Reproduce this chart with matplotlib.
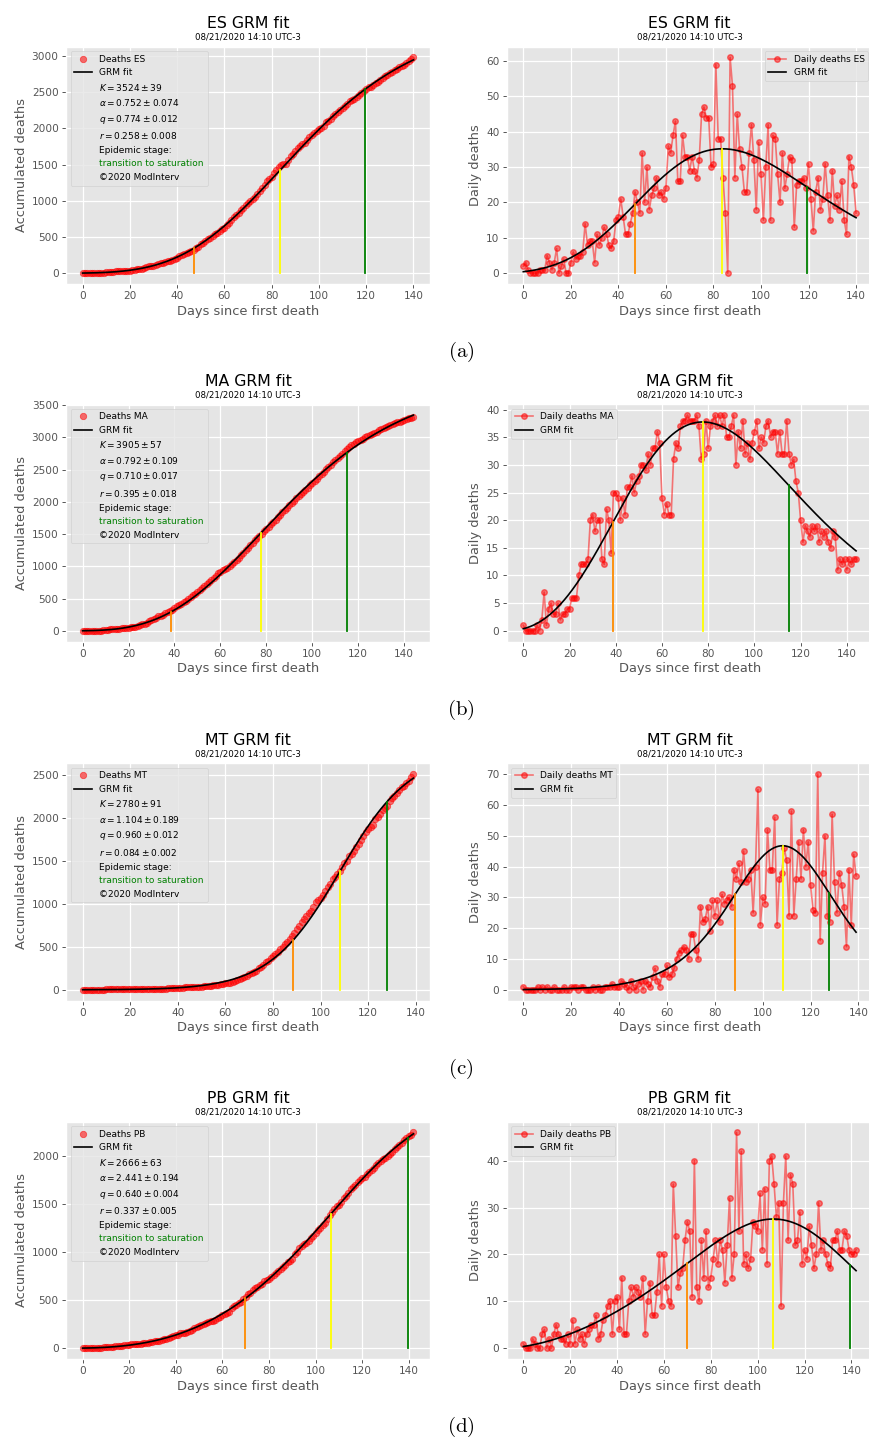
import matplotlib
matplotlib.use('Agg')
import matplotlib.pyplot as plt
import numpy as np

plt.style.use('ggplot')
plt.rcParams['axes.labelcolor'] = '#555555'

states = ['ES', 'MA', 'MT', 'PB']

# daily deaths since the first death, one value per day
es_daily = [2, 3, 1, 0, 0, 0, 0, 1, 1, 1,
            5, 3, 1, 3, 7, 0, 2, 4, 0, 0,
            3, 6, 4, 5, 5, 6, 14, 8, 9, 9,
            3, 11, 8, 10, 13, 11, 8, 7, 9, 15,
            16, 21, 16, 11, 11, 14, 17, 23, 20, 17,
            34, 20, 30, 18, 22, 24, 27, 22, 23, 21,
            24, 36, 34, 39, 43, 26, 26, 39, 33, 33,
            29, 33, 29, 27, 32, 45, 47, 44, 44, 30,
            31, 59, 38, 38, 27, 17, 0, 61, 53, 27,
            45, 35, 30, 23, 23, 34, 42, 32, 18, 37,
            28, 15, 30, 42, 15, 39, 38, 28, 20, 34,
            24, 28, 33, 32, 13, 25, 26, 26, 27, 24,
            31, 21, 12, 23, 27, 18, 21, 31, 22, 15,
            29, 19, 22, 18, 26, 15, 11, 33, 30, 25, 17]

ma_daily = [1, 0, 0, 0, 0, 0, 1, 0, 2, 7,
            1, 4, 5, 3, 3, 5, 2, 3, 3, 4,
            4, 6, 6, 6, 10, 12, 12, 12, 13, 20,
            21, 18, 20, 20, 13, 12, 22, 20, 14, 25,
            25, 24, 20, 24, 21, 26, 26, 28, 25, 27,
            28, 30, 30, 29, 32, 30, 33, 33, 36, 34,
            24, 21, 23, 21, 21, 31, 34, 33, 37, 38,
            38, 39, 38, 38, 38, 39, 37, 31, 32, 38,
            33, 37, 38, 39, 37, 39, 37, 39, 35, 35,
            37, 39, 30, 36, 33, 38, 32, 34, 31, 34,
            36, 38, 33, 35, 34, 37, 38, 35, 36, 36,
            32, 36, 32, 32, 38, 32, 30, 31, 27, 25,
            20, 16, 19, 18, 17, 19, 18, 19, 16, 18,
            17, 18, 16, 15, 18, 17, 11, 13, 12, 13,
            11, 13, 12, 13, 13]

mt_daily = [1, 0, 0, 0, 0, 0, 1, 0, 1, 0,
            1, 0, 0, 1, 0, 0, 0, 1, 0, 0,
            1, 1, 1, 0, 1, 1, 0, 0, 0, 1,
            0, 1, 0, 0, 1, 1, 1, 2, 1, 1,
            1, 3, 2, 1, 0, 3, 1, 0, 2, 3,
            0, 3, 2, 1, 4, 7, 3, 1, 5, 5,
            8, 4, 5, 7, 10, 12, 13, 14, 13, 10,
            18, 18, 13, 10, 27, 22, 23, 27, 19, 29,
            24, 29, 22, 31, 28, 29, 30, 27, 39, 36,
            41, 35, 45, 35, 36, 39, 25, 40, 65, 21,
            30, 28, 52, 39, 39, 56, 21, 36, 38, 46,
            42, 24, 58, 24, 36, 48, 36, 52, 40, 48,
            34, 26, 25, 70, 16, 38, 50, 24, 22, 57,
            35, 25, 38, 34, 27, 14, 39, 21, 44, 37]

pb_daily = [1, 0, 0, 0, 2, 1, 0, 0, 3, 4,
            0, 2, 0, 3, 5, 3, 2, 2, 1, 3,
            1, 6, 1, 4, 2, 3, 1, 3, 4, 5,
            5, 7, 2, 3, 6, 7, 9, 10, 3, 10,
            11, 4, 15, 3, 3, 10, 13, 11, 13, 12,
            11, 15, 3, 10, 14, 7, 7, 12, 20, 9,
            20, 13, 10, 9, 35, 24, 13, 16, 17, 23,
            27, 25, 11, 40, 13, 10, 23, 15, 25, 13,
            15, 19, 23, 18, 23, 21, 14, 22, 32, 15,
            20, 46, 25, 42, 18, 20, 17, 19, 27, 26,
            25, 33, 21, 34, 18, 40, 41, 35, 28, 31,
            9, 31, 41, 23, 37, 35, 22, 23, 29, 18,
            21, 19, 26, 22, 17, 20, 31, 21, 23, 20,
            18, 17, 23, 23, 25, 21, 21, 25, 24, 21,
            20, 20, 21]

daily_data = [es_daily, ma_daily, mt_daily, pb_daily]

# GRM parameters and uncertainties
K_vals = [3524, 3905, 2780, 2666]
K_err = [39, 57, 91, 63]
alpha_vals = [0.752, 0.792, 1.104, 2.441]
alpha_err = [0.074, 0.109, 0.189, 0.194]
q_vals = [0.774, 0.710, 0.960, 0.640]
q_err = [0.012, 0.017, 0.012, 0.004]
r_vals = [0.258, 0.395, 0.084, 0.337]
r_err = [0.008, 0.018, 0.002, 0.005]

# stage transition days: acceleration, peak, deceleration
t_accel = [47.1, 38.7, 88.6, 69.9]
t_peak = [83.7, 77.6, 108.3, 106.7]
t_decel = [119.5, 114.9, 127.8, 139.6]

stage_text = 'transition to saturation'
stamp = '08/21/2020 14:10 UTC-3'
panel_tags = ['(a)', '(b)', '(c)', '(d)']
daily_loc = ['upper right', 'upper left', 'upper left', 'upper left']


def grm_curve(K, a, q, r, tp, t):
    # dC/dt = r C^q (1 - (C/K)^a), solved as t(C) and shifted so the peak sits at tp
    rate = lambda c: r * c**q * (1 - (c / K)**a)
    c = np.geomspace(1e-6, 0.9995 * K, 40000)
    inv = 1.0 / rate(c)
    tc = np.concatenate([[0.0], np.cumsum(np.diff(c) * 0.5 * (inv[1:] + inv[:-1]))])
    c_peak = K * (q / (q + a))**(1.0 / a)
    tc = tc - np.interp(c_peak, c, tc) + tp
    cum = np.interp(t, tc, c)
    return cum, rate(cum)


W, H = 869.0, 1437.0
fig = plt.figure(figsize=(W / 100, H / 100), dpi=100)

row_tops = [46.7, 404.3, 763.3, 1121.7]
ax_h = 237.3

title_fs = 11.3
label_fs = 9.4
tick_fs = 7.6
leg_fs = 6.5
stamp_fs = 6.2


def decorate(ax, st, ylabel):
    ax.annotate(st + ' GRM fit', xy=(0.5, 1), xycoords='axes fraction',
                xytext=(0, 13.3), textcoords='offset points',
                ha='center', va='baseline', fontsize=title_fs, color='black')
    ax.annotate(stamp, xy=(0.5, 1), xycoords='axes fraction',
                xytext=(0, 5.2), textcoords='offset points',
                ha='center', va='baseline', fontsize=stamp_fs, color='black')
    ax.set_xlabel('Days since first death', fontsize=label_fs, labelpad=2.5)
    ax.set_ylabel(ylabel, fontsize=label_fs, labelpad=2.5)
    ax.tick_params(labelsize=tick_fs, length=2.8, width=0.7, pad=2.5)
    ax.grid(True, color='white', linewidth=0.9)


for i, st in enumerate(states):
    daily = np.array(daily_data[i])
    days = np.arange(len(daily))
    cum = np.cumsum(daily)

    K, a, q, r = K_vals[i], alpha_vals[i], q_vals[i], r_vals[i]
    tfit = np.linspace(0, days[-1], 600)
    cfit, dfit = grm_curve(K, a, q, r, t_peak[i], tfit)
    marks = [t_accel[i], t_peak[i], t_decel[i]]
    cmark, dmark = grm_curve(K, a, q, r, t_peak[i], np.array(marks))
    mark_colors = ['darkorange', 'yellow', 'green']

    y0 = 1 - (row_tops[i] + ax_h) / H

    # accumulated deaths
    ax1 = fig.add_axes([66 / W, y0, 364 / W, ax_h / H])
    ax1.plot(days, cum, 'o', color='red', alpha=0.55, ms=4.6, mew=0.6,
             label='Deaths ' + st)
    ax1.plot(tfit, cfit, '-', color='black', lw=1.2, label='GRM fit')
    for d, yv, col in zip(marks, cmark, mark_colors):
        ax1.plot([d, d], [0, yv], color=col, lw=1.3)
    extra = [r'$K = %d \pm %d$' % (K, K_err[i]),
             r'$\alpha = %.3f \pm %.3f$' % (a, alpha_err[i]),
             r'$q = %.3f \pm %.3f$' % (q, q_err[i]),
             r'$r = %.3f \pm %.3f$' % (r, r_err[i]),
             'Epidemic stage:', stage_text, '\u00a92020 ModInterv']
    for txt in extra:
        ax1.plot([], [], ' ', label=txt)
    leg = ax1.legend(loc='upper left', fontsize=leg_fs)
    for t in leg.get_texts():
        if t.get_text() == stage_text:
            t.set_color('green')
    decorate(ax1, st, 'Accumulated deaths')

    # daily deaths
    ax2 = fig.add_axes([506.7 / W, y0, 366 / W, ax_h / H])
    ax2.plot(days, daily, 'o-', color='red', alpha=0.5, ms=4.0, lw=1.2,
             label='Daily deaths ' + st)
    ax2.plot(tfit, dfit, '-', color='black', lw=1.2, label='GRM fit')
    for d, yv, col in zip(marks, dmark, mark_colors):
        ax2.plot([d, d], [0, yv], color=col, lw=1.3)
    ax2.legend(loc=daily_loc[i], fontsize=leg_fs)
    decorate(ax2, st, 'Daily deaths')

    fig.text(461 / W, 1 - (352 + 358.3 * i) / H, r'$\mathrm{%s}$' % panel_tags[i],
             math_fontfamily='cm', fontsize=15, ha='center', va='center')

fig.savefig('out.png', dpi=100)
